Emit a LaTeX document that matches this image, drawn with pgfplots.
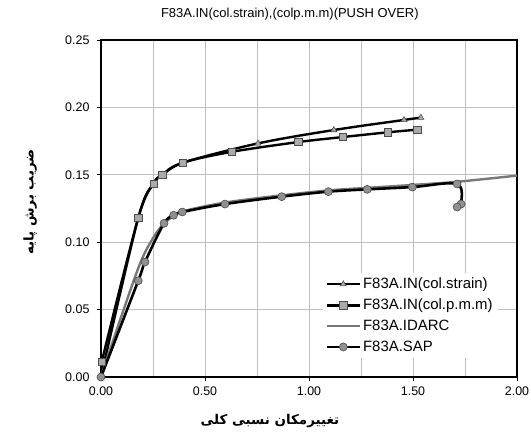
\documentclass[border=0pt]{standalone}
\usepackage{pgfplots}
\pgfplotsset{compat=1.18}
\usepackage{fontspec}
\setmainfont{Liberation Sans}
\newfontfamily\arabicfont[Script=Arabic]{DejaVu Sans}
\TeXXeTstate=1
\definecolor{gridgray}{RGB}{192,192,192}
\definecolor{markgray}{RGB}{170,170,170}
\definecolor{idarc}{RGB}{120,120,120}
\begin{document}
\begin{tikzpicture}
\useasboundingbox (-101bp,-62bp) rectangle (430bp,377bp);
\begin{axis}[
  at={(0,0)}, anchor=south west,
  scale only axis, width=416bp, height=337bp,
  xmin=0, xmax=2, ymin=0, ymax=0.25,
  xtick={0,0.5,1,1.5,2},
  minor xtick={0.25,0.75,1.25,1.75},
  ytick={0,0.05,0.1,0.15,0.2,0.25},
  xmajorgrids, xminorgrids, ymajorgrids,
  grid style={gridgray, line width=0.9bp},
  minor grid style={gridgray, line width=0.9bp},
  tick align=outside, major tick length=4bp, minor tick length=0pt,
  xtick pos=lower, ytick pos=left,
  tick style={black, line width=0.8bp},
  axis line style={line width=2bp},
  /pgf/number format/assume math mode=true,
  /pgf/number format/fixed, /pgf/number format/fixed zerofill, /pgf/number format/precision=2,
  ticklabel style={font=\fontsize{12.5}{14}\selectfont},
  xticklabel style={yshift=-2bp},
  yticklabel style={xshift=-4bp},
  every axis title/.style={at={(0.454,1.078)}, anchor=center, font=\fontsize{13}{15}\selectfont},
  title={F83A.IN(col.strain),(colp.m.m)(PUSH OVER)},
  xlabel={\arabicfont\bfseries\beginR تغییرمکان نسبی کلی\endR},
  xlabel style={at={(0.406,-0.13)}, anchor=center, font=\fontsize{13.5}{15}\selectfont},
  ylabel={\arabicfont\bfseries\beginR ضریب برش پایه\endR},
  ylabel style={at={(-0.17,0.519)}, anchor=center, font=\fontsize{13.5}{15}\selectfont},
  legend cell align=left,
  legend style={at={(0.532,0.309)}, anchor=north west, draw=none, fill=white,
    font=\fontsize{15}{17}\selectfont, row sep=4.8bp, inner sep=3bp},
  legend image code/.code={\draw[mark repeat=2,mark phase=2,#1] plot coordinates {(0bp,0bp) (16.5bp,0bp) (33bp,0bp)};},
]
\addplot[black, line width=2.4bp, smooth, tension=0.55, mark=triangle*, mark size=3.4bp,
  mark options={fill=markgray, draw=black!70, line width=0.6bp, solid}]
  coordinates {(0,0) (0.179,0.118) (0.252,0.1434) (0.295,0.150) (0.394,0.159) (0.755,0.1733) (1.119,0.1832) (1.457,0.1907) (1.538,0.1924)};
\addlegendentry{F83A.IN(col.strain)}
\addplot[black, line width=2.4bp, smooth, tension=0.55, mark=square*, mark size=3.6bp,
  mark options={fill=markgray, draw=black!70, line width=0.6bp, solid}]
  coordinates {(0.003,0.011) (0.179,0.118) (0.252,0.1434) (0.295,0.150) (0.394,0.159) (0.627,0.167) (0.949,0.1743) (1.162,0.178) (1.378,0.1815) (1.521,0.1835)};
\addlegendentry{F83A.IN(col.p.m.m)}
\addplot[idarc, line width=2.4bp, smooth, tension=0.55, no marks]
  coordinates {(0,0) (0.1,0.046) (0.19,0.085) (0.25,0.103) (0.3,0.1135) (0.35,0.1195) (0.4,0.1232) (0.6,0.1295) (0.87,0.1348) (1.1,0.1385) (1.3,0.1405) (1.5,0.1425) (1.71,0.1448) (2.0,0.1494)};
\addlegendentry{F83A.IDARC}
\addplot[black, line width=2.6bp, smooth, tension=0.55, mark=*, mark size=4bp,
  mark options={fill=markgray!85!black, draw=black!70, line width=0.6bp, solid}]
  coordinates {(0,0) (0.179,0.0714) (0.2115,0.0853) (0.303,0.114) (0.349,0.120) (0.391,0.1224) (0.596,0.1283) (0.869,0.1338) (1.093,0.1375) (1.280,0.1392) (1.497,0.1409) (1.712,0.1432) (1.731,0.1283) (1.712,0.1261)};
\addlegendentry{F83A.SAP}
\end{axis}
\end{tikzpicture}
\end{document}
